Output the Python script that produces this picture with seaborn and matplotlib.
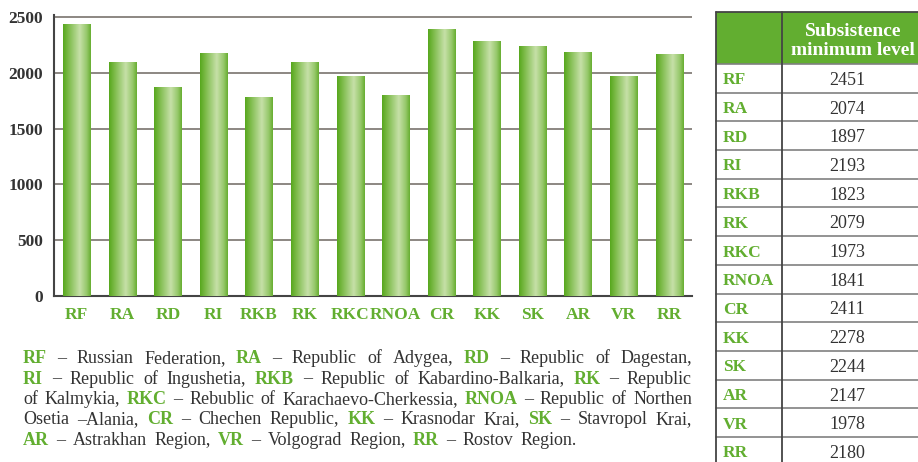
import matplotlib
matplotlib.use("Agg")
import matplotlib.pyplot as plt
from matplotlib.colors import LinearSegmentedColormap
from matplotlib.patches import Rectangle
from matplotlib.lines import Line2D
import numpy as np
import pandas as pd
import seaborn as sns

# ── data ─────────────────────────────────────
REGIONS = ["RF", "RA", "RD", "RI", "RKB", "RK", "RKC", "RNOA",
           "CR", "KK", "SK", "AR", "VR", "RR"]
# bar heights as drawn in the chart
BAR_HEIGHTS = [2437, 2097, 1873, 2177, 1783, 2097, 1971, 1801,
               2392, 2285, 2240, 2186, 1971, 2168]
# values printed in the side table
TABLE_VALUES = [2451, 2074, 1897, 2193, 1823, 2079, 1973, 1841,
                2411, 2278, 2244, 2147, 1978, 2180]
Y_TICKS = [0, 500, 1000, 1500, 2000, 2500]
TABLE_HEADER = ["Subsistence", "minimum level"]
FOOTNOTE = [
    "**RF – Russian Federation, **RA – Republic of Adygea, **RD – Republic of Dagestan,",
    "**RI – Republic of Ingushetia, **RKB – Republic of Kabardino-Balkaria, **RK – Republic",
    "of Kalmykia, **RKC – Rebublic of Karachaevo-Cherkessia, **RNOA – Republic of Northen",
    "Osetia –Alania, **CR – Chechen Republic, **KK – Krasnodar Krai, **SK – Stavropol Krai,",
    "**AR – Astrakhan Region, **VR – Volgograd Region, **RR – Rostov Region.",
]

GREEN = "#62ae30"
TEXT = "#333333"
GRID = "#8c8782"
SERIF = ["Liberation Serif", "DejaVu Serif"]

W, H = 918, 462

sns.set_style("white")
plt.rcParams["font.family"] = SERIF


def fx(x):
    return x / W


def fy(y):
    return 1 - y / H


fig = plt.figure(figsize=(W / 100, H / 100), dpi=100)
ax = fig.add_axes([fx(54), fy(296), fx(692) - fx(54), fy(14.8) - fy(296)])

df = pd.DataFrame({"region": REGIONS, "value": BAR_HEIGHTS})
sns.barplot(data=df, x="region", y="value", color=GREEN, width=0.6,
            ax=ax, zorder=2)

# gradient fill for each bar
cmap = LinearSegmentedColormap.from_list(
    "bar", [(0, "#56a71d"), (0.2, "#7dbb4a"), (0.6, "#c6e0a8"),
            (0.85, "#96c86a"), (1.0, "#66ad30")])
grad = np.linspace(0, 1, 256).reshape(1, -1)
for p in list(ax.patches):
    x0, w, h = p.get_x(), p.get_width(), p.get_height()
    im = ax.imshow(grad, extent=[x0, x0 + w, 0, h], aspect="auto",
                   cmap=cmap, zorder=3)
    im.set_clip_path(p)
    p.set_facecolor("none")
    p.set_edgecolor("none")

ax.set_xlim(-0.5, len(REGIONS) - 0.5)
ax.set_ylim(0, 2520)
ax.set_yticks(Y_TICKS)
ax.set_yticklabels([str(v) for v in Y_TICKS], fontsize=12.5,
                   fontweight="bold", color=TEXT)
ax.set_xticks(range(len(REGIONS)))
ax.set_xticklabels(REGIONS, fontsize=12.5, fontweight="bold", color=GREEN)
ax.set_xticks(np.arange(-0.5, len(REGIONS)), minor=True)
ax.tick_params(axis="x", which="major", length=0, pad=8)
ax.tick_params(axis="x", which="minor", length=6, width=1.3,
               color="#444444", direction="out")
ax.tick_params(axis="y", length=6, width=1.3, color="#444444",
               direction="out", pad=2)
ax.set_xlabel("")
ax.set_ylabel("")
ax.set_axisbelow(True)
ax.yaxis.grid(True, color=GRID, lw=1.4)
ax.xaxis.grid(False)
for s in ["top", "right"]:
    ax.spines[s].set_visible(False)
for s in ["left", "bottom"]:
    ax.spines[s].set_color("#444444")
    ax.spines[s].set_linewidth(1.5)

# ── side table ───────────────────────────────
tx0, tdiv, tx1 = 716, 782, 930
head_top, head_bot, row_h = 12, 64, 28.7
fig.add_artist(Rectangle((fx(tx0), fy(head_bot)), fx(tx1) - fx(tx0),
                         fy(head_top) - fy(head_bot),
                         transform=fig.transFigure, color=GREEN, lw=0))
for i, line in enumerate(TABLE_HEADER):
    fig.text(fx(853), fy(35.7 + i * 19.3), line, ha="center", va="baseline",
             fontsize=14, fontweight="bold", color="white")

n = len(REGIONS)
bottom = head_bot + n * row_h
for i in range(n + 1):
    y = head_bot + i * row_h
    fig.add_artist(Line2D([fx(tx0), fx(tx1)], [fy(y), fy(y)],
                          transform=fig.transFigure, color="#808080", lw=1.2))
for x in (tx0, tdiv):
    fig.add_artist(Line2D([fx(x), fx(x)], [fy(head_top), fy(bottom)],
                          transform=fig.transFigure, color="#444444", lw=1.3))
fig.add_artist(Line2D([fx(tx0), fx(tx1)], [fy(head_top), fy(head_top)],
                      transform=fig.transFigure, color="#444444", lw=1.3))
for i, (reg, val) in enumerate(zip(REGIONS, TABLE_VALUES)):
    yc = head_bot + (i + 0.5) * row_h
    fig.text(fx(723), fy(yc), reg, ha="left", va="center_baseline",
             fontsize=12.5, fontweight="bold", color=GREEN)
    fig.text(fx(847), fy(yc), str(val), ha="center", va="center_baseline",
             fontsize=13, color=TEXT)

# ── justified footnote ───────────────────────
renderer = fig.canvas.get_renderer()
left, right, last_right = 23, 692, 577
base0, lead = 363, 20.5
for li, line in enumerate(FOOTNOTE):
    words = []
    for w in line.split():
        bold = w.startswith("**")
        words.append((w[2:] if bold else w, bold))
    arts = []
    for w, bold in words:
        t = fig.text(0, fy(base0 + li * lead), w, va="baseline", ha="left",
                     fontsize=13, color=GREEN if bold else TEXT,
                     fontweight="bold" if bold else "normal")
        arts.append(t)
    widths = [a.get_window_extent(renderer).width for a in arts]
    end = right if li < len(FOOTNOTE) - 1 else last_right
    gap = (end - left - sum(widths)) / (len(arts) - 1)
    x = left
    for a, wd in zip(arts, widths):
        a.set_x(fx(x))
        x += wd + gap

fig.savefig("out.png", dpi=100)
